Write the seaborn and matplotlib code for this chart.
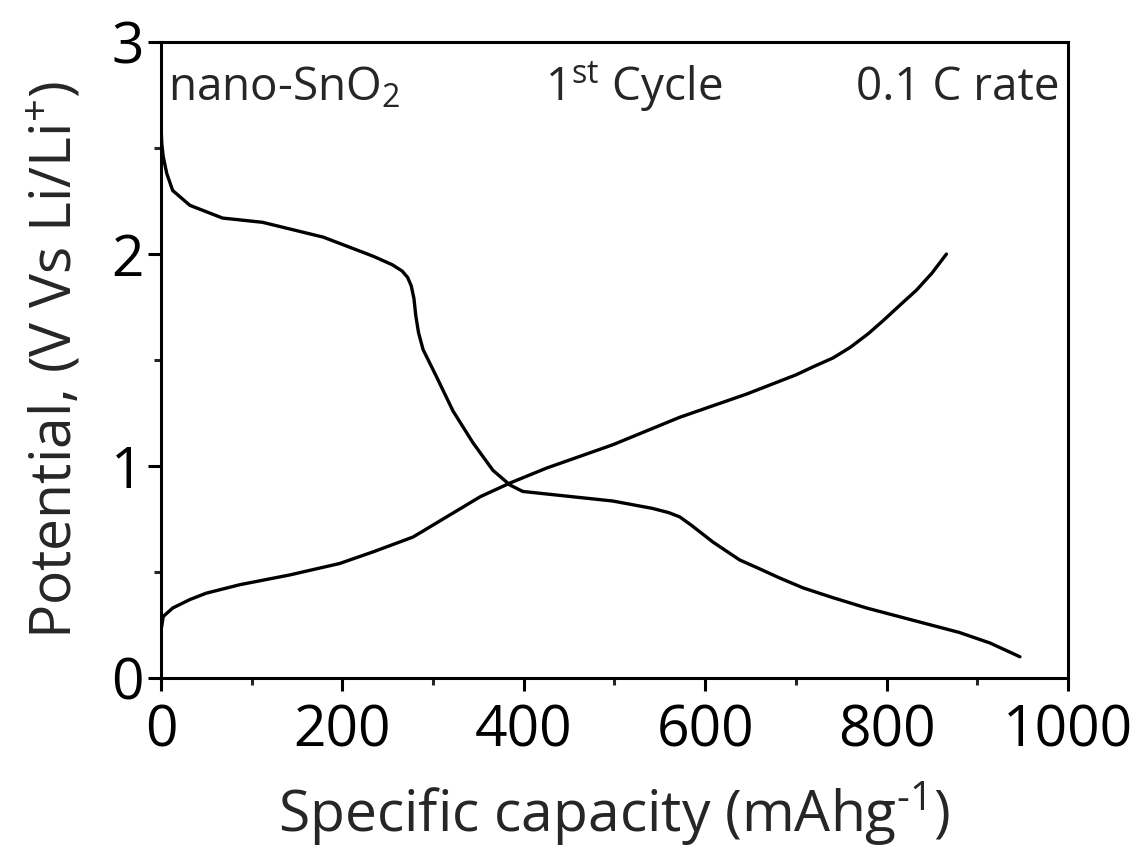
import matplotlib
matplotlib.use('Agg')
import matplotlib.pyplot as plt
from matplotlib.ticker import MultipleLocator
import seaborn as sns
import pandas as pd

# 放電曲線 (mAh/g, V)
discharge_cap = [0, 1, 2.6, 6.5, 13, 32, 68, 112, 179, 234, 255, 266, 272, 276, 279,
                 281, 284, 289, 304, 322, 344, 366, 385, 399, 443, 498, 542, 560, 572,
                 585, 597, 609, 638, 660, 682, 708, 740, 778, 840, 880, 914, 947]
discharge_v = [2.62, 2.52, 2.46, 2.38, 2.30, 2.23, 2.17, 2.15, 2.08, 1.99, 1.95, 1.92,
               1.89, 1.85, 1.79, 1.71, 1.63, 1.55, 1.42, 1.26, 1.11, 0.98, 0.91, 0.88,
               0.86, 0.835, 0.80, 0.78, 0.76, 0.72, 0.68, 0.64, 0.557, 0.515, 0.472,
               0.425, 0.38, 0.33, 0.26, 0.215, 0.165, 0.10]

# 充電曲線
charge_cap = [0, 2.6, 13, 32, 50, 87, 142, 197, 234, 278, 315, 352, 385, 425, 498,
              572, 646, 682, 700, 720, 741, 760, 780, 796, 815, 833, 850, 866]
charge_v = [0.22, 0.29, 0.33, 0.37, 0.40, 0.44, 0.486, 0.54, 0.595, 0.665, 0.76, 0.855,
            0.92, 0.99, 1.10, 1.23, 1.34, 1.40, 1.43, 1.47, 1.51, 1.56, 1.625, 1.685,
            1.76, 1.83, 1.91, 2.00]

x_ticks = [0, 200, 400, 600, 800, 1000]
y_ticks = [0, 1, 2, 3]

sns.set_theme(style='ticks')
plt.rcParams['font.family'] = ['Open Sans', 'DejaVu Sans']
plt.rcParams['mathtext.fontset'] = 'custom'
plt.rcParams['mathtext.rm'] = 'Open Sans'
plt.rcParams['mathtext.it'] = 'Open Sans'
plt.rcParams['mathtext.default'] = 'regular'

df_dis = pd.DataFrame({'cap': discharge_cap, 'v': discharge_v})
df_chg = pd.DataFrame({'cap': charge_cap, 'v': charge_v})

fig = plt.figure(figsize=(11.41, 8.5), dpi=100)
ax = fig.add_axes([0.141, 0.2024, 0.795, 0.748])

sns.lineplot(data=df_dis, x='cap', y='v', ax=ax, color='black', linewidth=2.4, sort=False)
sns.lineplot(data=df_chg, x='cap', y='v', ax=ax, color='black', linewidth=2.4, sort=False)

ax.set_xlim(0, 1000)
ax.set_ylim(0, 3)
ax.set_xticks(x_ticks)
ax.set_yticks(y_ticks)
ax.xaxis.set_minor_locator(MultipleLocator(100))
ax.yaxis.set_minor_locator(MultipleLocator(0.5))
ax.tick_params(which='major', direction='out', length=9.5, width=2.2, labelsize=41,
               colors='black')
ax.tick_params(axis='x', which='major', pad=9)
ax.tick_params(axis='y', which='major', pad=3)
ax.tick_params(which='minor', direction='out', length=5, width=2.2)
for s in ax.spines.values():
    s.set_linewidth(2.2)
    s.set_color('black')

ax.set_xlabel('Specific capacity (mAhg$^{\\text{-}1}$)', fontsize=41, labelpad=14)
ax.set_ylabel('Potential, (V Vs Li/Li$^{+}$)', fontsize=41, labelpad=19)

ax.text(8, 2.726, 'nano-SnO$_2$', fontsize=33, va='baseline', ha='left')
ax.text(521, 2.726, '1$^{st}$ Cycle', fontsize=33, va='baseline', ha='center')
ax.text(991, 2.726, '0.1 C rate', fontsize=33, va='baseline', ha='right')

fig.savefig('out.png', dpi=100)
